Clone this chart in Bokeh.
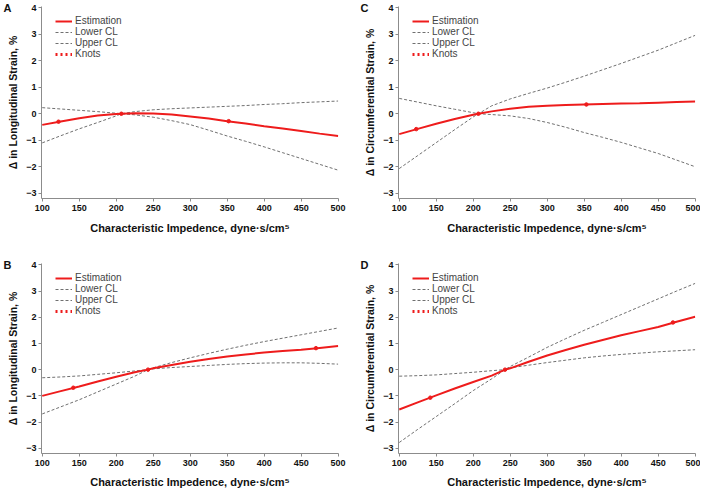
from bokeh.plotting import figure
from bokeh.layouts import column, row
from bokeh.models import Legend, LegendItem, Range1d, FixedTicker, LinearAxis
from bokeh.embed import file_html
from bokeh.resources import INLINE

# ---------------- data ----------------
x_ac = [100, 125, 150, 175, 200, 207, 225, 250, 275, 300, 325, 350, 375, 400, 425, 450, 475, 500]
a_est = [-0.42, -0.29, -0.17, -0.07, -0.01, 0.0, 0.02, 0.01, -0.03, -0.10, -0.18, -0.28, -0.37, -0.47, -0.56, -0.65, -0.75, -0.84]
a_low = [-1.10, -0.83, -0.57, -0.33, -0.08, 0.0, -0.04, -0.13, -0.26, -0.41, -0.62, -0.84, -1.04, -1.25, -1.47, -1.69, -1.91, -2.13]
a_up = [0.23, 0.18, 0.13, 0.08, 0.02, 0.0, 0.08, 0.15, 0.19, 0.22, 0.25, 0.28, 0.31, 0.35, 0.38, 0.42, 0.45, 0.48]
a_knot_x = [122, 207, 352]
a_knot_y = [-0.30, 0.0, -0.28]

c_est = [-0.77, -0.57, -0.38, -0.20, -0.04, 0.0, 0.09, 0.19, 0.26, 0.30, 0.33, 0.35, 0.37, 0.39, 0.40, 0.42, 0.44, 0.46]
c_low = [0.58, 0.44, 0.30, 0.17, 0.04, 0.0, -0.03, -0.08, -0.18, -0.33, -0.51, -0.71, -0.89, -1.08, -1.29, -1.50, -1.75, -2.00]
c_up = [-2.07, -1.58, -1.09, -0.60, -0.12, 0.0, 0.30, 0.56, 0.77, 0.97, 1.19, 1.42, 1.66, 1.90, 2.15, 2.40, 2.68, 2.96]
c_knot_x = [123, 207, 353]
c_knot_y = [-0.58, 0.0, 0.35]

x_bd = [100, 125, 150, 175, 200, 225, 243, 250, 275, 300, 325, 350, 375, 400, 425, 450, 475, 500]
b_est = [-1.00, -0.82, -0.64, -0.45, -0.27, -0.10, 0.0, 0.05, 0.18, 0.30, 0.41, 0.50, 0.58, 0.65, 0.71, 0.76, 0.83, 0.90]
b_low = [-0.31, -0.28, -0.24, -0.18, -0.12, -0.05, 0.0, 0.03, 0.08, 0.12, 0.16, 0.20, 0.23, 0.25, 0.26, 0.26, 0.24, 0.21]
b_up = [-1.69, -1.42, -1.15, -0.85, -0.55, -0.25, 0.0, 0.07, 0.27, 0.45, 0.62, 0.78, 0.93, 1.07, 1.20, 1.33, 1.46, 1.59]
b_knot_x = [142, 243, 470]
b_knot_y = [-0.69, 0.0, 0.82]

d_est = [-1.52, -1.25, -0.98, -0.72, -0.47, -0.23, 0.0, 0.05, 0.30, 0.54, 0.75, 0.95, 1.13, 1.31, 1.47, 1.63, 1.83, 2.02]
d_low = [-0.25, -0.23, -0.20, -0.15, -0.10, -0.04, 0.0, 0.07, 0.17, 0.27, 0.36, 0.45, 0.52, 0.58, 0.63, 0.68, 0.72, 0.76]
d_up = [-2.78, -2.28, -1.79, -1.30, -0.80, -0.35, 0.0, 0.12, 0.48, 0.85, 1.18, 1.50, 1.80, 2.10, 2.40, 2.70, 3.00, 3.29]
d_knot_x = [142, 243, 470]
d_knot_y = [-1.07, 0.0, 1.80]

x_ticks = [100, 150, 200, 250, 300, 350, 400, 450, 500]
y_ticks = [-3, -2, -1, 0, 1, 2, 3, 4]
x_title = "Characteristic Impedence, dyne\u00b7s/cm\u2075"
y_title_long = "\u0394 in Longitudinal Strain, %"
y_title_circ = "\u0394 in Circumferential Strain, %"
legend_labels = ["Estimation", "Lower CL", "Upper CL", "Knots"]
nan = float("nan")

RED = "#ee1c1c"
GRAY = "#707070"
AXIS = "#8c8c8c"
FONT = "Liberation Sans"


def panel(letter, xs, est, low, up, kx, ky, ytitle, left, top, fh, bottom, right, fw, xstand):
    p = figure(frame_width=fw, frame_height=fh,
               min_border_left=left, min_border_right=right,
               min_border_top=top, min_border_bottom=bottom,
               x_range=Range1d(99, 500.5), y_range=Range1d(-3.2, 4.05),
               output_backend="svg", toolbar_location=None)
    p.outline_line_color = None
    p.xgrid.grid_line_color = None
    p.ygrid.grid_line_color = None
    for ax in (p.xaxis[0], p.yaxis[0]):
        ax.axis_line_color = AXIS
        ax.major_tick_line_color = AXIS
        ax.minor_tick_line_color = None
        ax.major_tick_in = 0
        ax.major_tick_out = 3
        ax.major_label_text_font = FONT
        ax.major_label_text_font_style = "bold"
        ax.major_label_text_font_size = "9px"
        ax.major_label_text_color = "#111111"
        ax.axis_label_text_font = FONT
        ax.axis_label_text_font_style = "bold"
        ax.axis_label_text_color = "#111111"
    p.xaxis[0].major_label_standoff = 3
    p.yaxis[0].major_label_standoff = 2
    p.xaxis[0].ticker = FixedTicker(ticks=x_ticks)
    p.yaxis[0].ticker = FixedTicker(ticks=y_ticks)
    p.xaxis[0].axis_label = x_title
    p.xaxis[0].axis_label_text_font_size = "11px"
    p.xaxis[0].axis_label_standoff = xstand
    p.yaxis[0].axis_label = ytitle
    p.yaxis[0].axis_label_text_font_size = "10.5px"
    p.yaxis[0].axis_label_standoff = 4

    # panel letter, drawn as the single tick label of an extra, bare left axis
    letter_axis = LinearAxis(ticker=FixedTicker(ticks=[y_ticks[-1]]),
                             major_label_overrides={y_ticks[-1]: letter},
                             axis_line_color=None, major_tick_line_color=None,
                             minor_tick_line_color=None,
                             major_tick_in=0, major_tick_out=0, major_label_standoff=-7,
                             major_label_text_font=FONT, major_label_text_font_style="bold",
                             major_label_text_font_size="11px", major_label_text_color="#111111")
    p.add_layout(letter_axis, "left")

    r_low = p.line(xs, low, line_color=GRAY, line_width=1, line_dash="3 2")
    r_up = p.line(xs, up, line_color=GRAY, line_width=1, line_dash="3 2")
    r_est = p.line(xs, est, line_color=RED, line_width=2)
    p.scatter(kx, ky, size=3.5, color=RED)
    r_knot_legend = p.line([nan], [nan], line_color=RED, line_width=3, line_dash="2 3")

    legend = Legend(items=[
        LegendItem(label=legend_labels[0], renderers=[r_est]),
        LegendItem(label=legend_labels[1], renderers=[r_low]),
        LegendItem(label=legend_labels[2], renderers=[r_up]),
        LegendItem(label=legend_labels[3], renderers=[r_knot_legend]),
    ])
    legend.location = (14, fh - 13 - 40)
    legend.margin = 0
    legend.padding = 0
    legend.spacing = -2
    legend.border_line_color = None
    legend.background_fill_alpha = 0
    legend.label_text_font = FONT
    legend.label_text_font_size = "10px"
    legend.label_text_line_height = 1.0
    legend.label_height = 10
    legend.glyph_height = 10
    legend.glyph_width = 17
    legend.label_standoff = 3
    p.add_layout(legend, "center")
    return p


pa = panel("A", x_ac, a_est, a_low, a_up, a_knot_x, a_knot_y, y_title_long, 26, 6, 192, 44, 19, 297, 8)
pc = panel("C", x_ac, c_est, c_low, c_up, c_knot_x, c_knot_y, y_title_circ, 40, 6, 192, 44, 5, 297, 8)
pb = panel("B", x_bd, b_est, b_low, b_up, b_knot_x, b_knot_y, y_title_long, 26, 21, 190, 37, 19, 297, 7)
pd = panel("D", x_bd, d_est, d_low, d_up, d_knot_x, d_knot_y, y_title_circ, 40, 21, 190, 37, 5, 297, 7)

layout = column(row(pa, pc), row(pb, pd))
open("out.html", "w").write(file_html(layout, INLINE))
